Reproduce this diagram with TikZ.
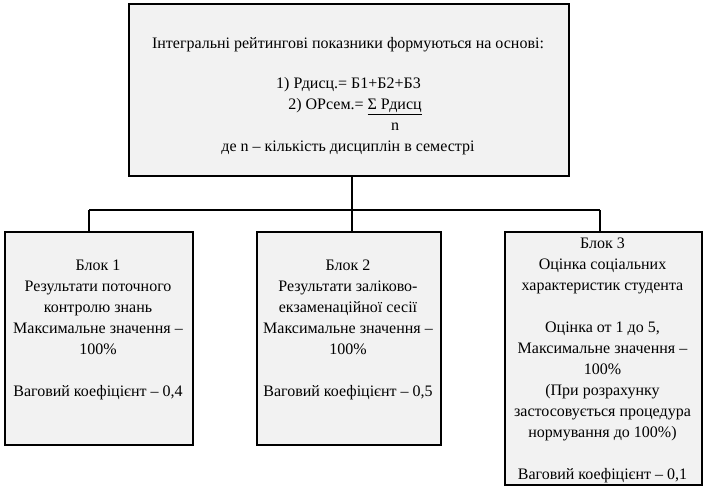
\documentclass[tikz,border=0pt]{standalone}
\usepackage{fontspec}
\setmainfont{Liberation Serif}
\definecolor{boxfill}{HTML}{F2F2F2}
\tikzset{
  box/.style={draw=black, line width=1.5pt, fill=boxfill, rectangle, inner sep=0pt, anchor=north west},
  txt/.style={inner sep=0pt, align=center, font=\fontsize{12}{15.75}\selectfont},
  link/.style={draw=black, line width=1.5pt}
}
\begin{document}
\begin{tikzpicture}[x=0.75pt,y=-0.75pt]
\useasboundingbox (0,0) rectangle (716,501);
\node[box, minimum width=330pt, minimum height=129pt] (top) at (128,3) {};
\node[box, minimum width=141pt, minimum height=159.75pt] (b1) at (4,231) {};
\node[box, minimum width=138pt, minimum height=159.75pt] (b2) at (256,231) {};
\node[box, minimum width=147.75pt, minimum height=189.75pt] (b3) at (504,231) {};

\node[txt, anchor=base] (t1) at (348,48) {Інтегральні рейтингові показники формуються на основі:};
\node[txt, anchor=base] (t2) at (348.5,88) {1) Рдисц.= Б1+Б2+Б3};
\node[txt, anchor=base] (t3) at (355,109) {2) ОРсем.= \underline{Σ Рдисц}};
\node[txt, anchor=base] (t4) at (395,130) {n};
\node[txt, anchor=base] (t5) at (348,151) {де n – кількість дисциплін в семестрі};

\node[txt, anchor=north] (x1) at (98,259.2) {Блок 1\\Результати поточного\\контролю знань\\Максимальне значення –\\100\%\\[15.75pt]Ваговий коефіцієнт – 0,4};
\node[txt, anchor=north] (x2) at (348,259.2) {Блок 2\\Результати заліково-\\екзаменаційної сесії\\Максимальне значення –\\100\%\\[15.75pt]Ваговий коефіцієнт – 0,5};
\node[txt, anchor=north] (x3) at (602.5,237.5) {Блок 3\\Оцінка соціальних\\характеристик студента\\[15.75pt]Оцінка от 1 до 5,\\Максимальне значення –\\100\%\\(При розрахунку\\застосовується процедура\\нормування до 100\%)\\[15.75pt]Ваговий коефіцієнт – 0,1};

\coordinate (j) at (352,210);
\coordinate (l) at (89,210);
\coordinate (r) at (600,210);
\draw[link] (l) -- (r);
\draw[link] (top.south -| j) -- (j |- b2.north);
\draw[link] (l) -- (l |- b1.north);
\draw[link] (r) -- (r |- b3.north);
\end{tikzpicture}
\end{document}
